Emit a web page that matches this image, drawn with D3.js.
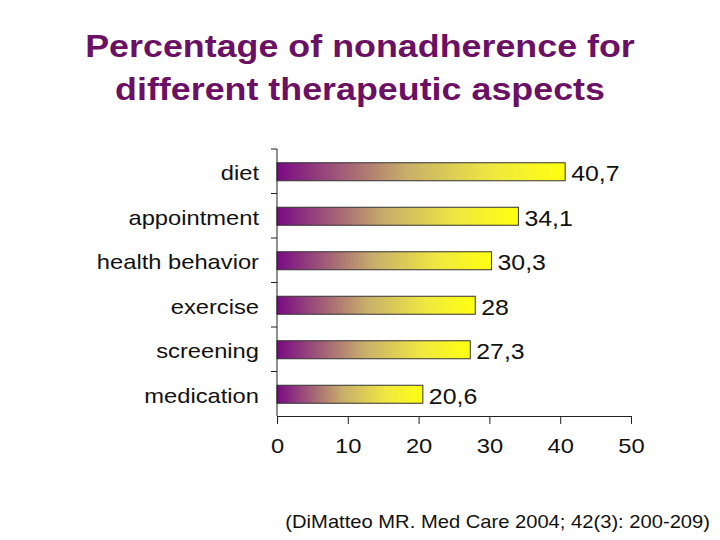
<!DOCTYPE html>
<html><head><meta charset="utf-8">
<script src="https://cdn.jsdelivr.net/npm/d3@7/dist/d3.min.js"></script>
<style>body{margin:0;background:#fff}svg{display:block}</style>
</head><body>
<svg id="c" width="720" height="540"></svg>
<script>
const categories = ["diet","appointment","health behavior","exercise","screening","medication"];
const values = [40.7,34.1,30.3,28,27.3,20.6];
const valueLabels = ["40,7","34,1","30,3","28","27,3","20,6"];
const xTicks = [0,10,20,30,40,50];
const titleLines = ["Percentage of nonadherence for","different therapeutic aspects"];
const citation = "(DiMatteo MR. Med Care 2004; 42(3): 200-209)";

const svg = d3.select("#c");
const font = "Arial, 'Liberation Sans', sans-serif";
const SX = 1.13;
const x = d3.scaleLinear().domain([0,50]).range([277,631]);
const yb = d3.scaleBand().domain(categories).range([149,416]);
const cy = c => yb(c) + yb.bandwidth()/2;

const defs = svg.append("defs");
const g = defs.append("linearGradient").attr("id","grad").attr("x1","0%").attr("x2","100%");
g.append("stop").attr("offset","0%").attr("stop-color","#7a0a84");
g.append("stop").attr("offset","45%").attr("stop-color","#c8ae6a");
g.append("stop").attr("offset","75%").attr("stop-color","#f0e840");
g.append("stop").attr("offset","100%").attr("stop-color","#ffff10");

svg.selectAll("text.title").data(titleLines).enter().append("text")
  .attr("transform",(d,i)=>`translate(360,${57+i*43}) scale(1.12,1)`)
  .attr("text-anchor","middle")
  .attr("font-family",font).attr("font-weight","bold").attr("font-size",32)
  .attr("fill","#6a1065").text(d=>d);

svg.selectAll("rect.bar").data(values).enter().append("rect")
  .attr("x",x(0)).attr("y",(d,i)=>cy(categories[i])-8.5)
  .attr("width",d=>x(d)-x(0)).attr("height",18)
  .attr("fill","url(#grad)").attr("stroke","#333").attr("stroke-width",1);

svg.selectAll("text.val").data(values).enter().append("text")
  .attr("transform",(d,i)=>`translate(${x(d)+6},${cy(categories[i])+10}) scale(${SX},1)`)
  .attr("font-family",font).attr("font-size",22).attr("fill","#111")
  .text((d,i)=>valueLabels[i]);

// y axis
svg.append("line").attr("x1",277).attr("x2",277).attr("y1",149).attr("y2",416).attr("stroke","#222");
const yBounds = categories.map(c=>yb(c));
svg.selectAll("line.yt").data(yBounds).enter().append("line")
  .attr("x1",271).attr("x2",277).attr("y1",d=>d).attr("y2",d=>d).attr("stroke","#222");
svg.selectAll("text.cat").data(categories).enter().append("text")
  .attr("transform",d=>`translate(259,${cy(d)+9}) scale(${SX},1)`)
  .attr("text-anchor","end")
  .attr("font-family",font).attr("font-size",21).attr("fill","#111").text(d=>d);

// x axis
const xa = svg.append("g").attr("transform","translate(0,416)")
  .call(d3.axisBottom(x).tickValues(xTicks).tickSize(8).tickPadding(14).tickSizeOuter(0));
xa.select(".domain").attr("stroke","#222");
xa.selectAll(".tick line").attr("stroke","#222");
xa.selectAll("text").attr("font-family",font).attr("font-size",21).attr("fill","#111")
  .attr("transform",`scale(${SX},1)`);

svg.append("text").attr("transform",`translate(710,528) scale(1.12,1)`).attr("text-anchor","end")
  .attr("font-family",font).attr("font-size",18).attr("fill","#111").text(citation);
</script>
</body></html>
